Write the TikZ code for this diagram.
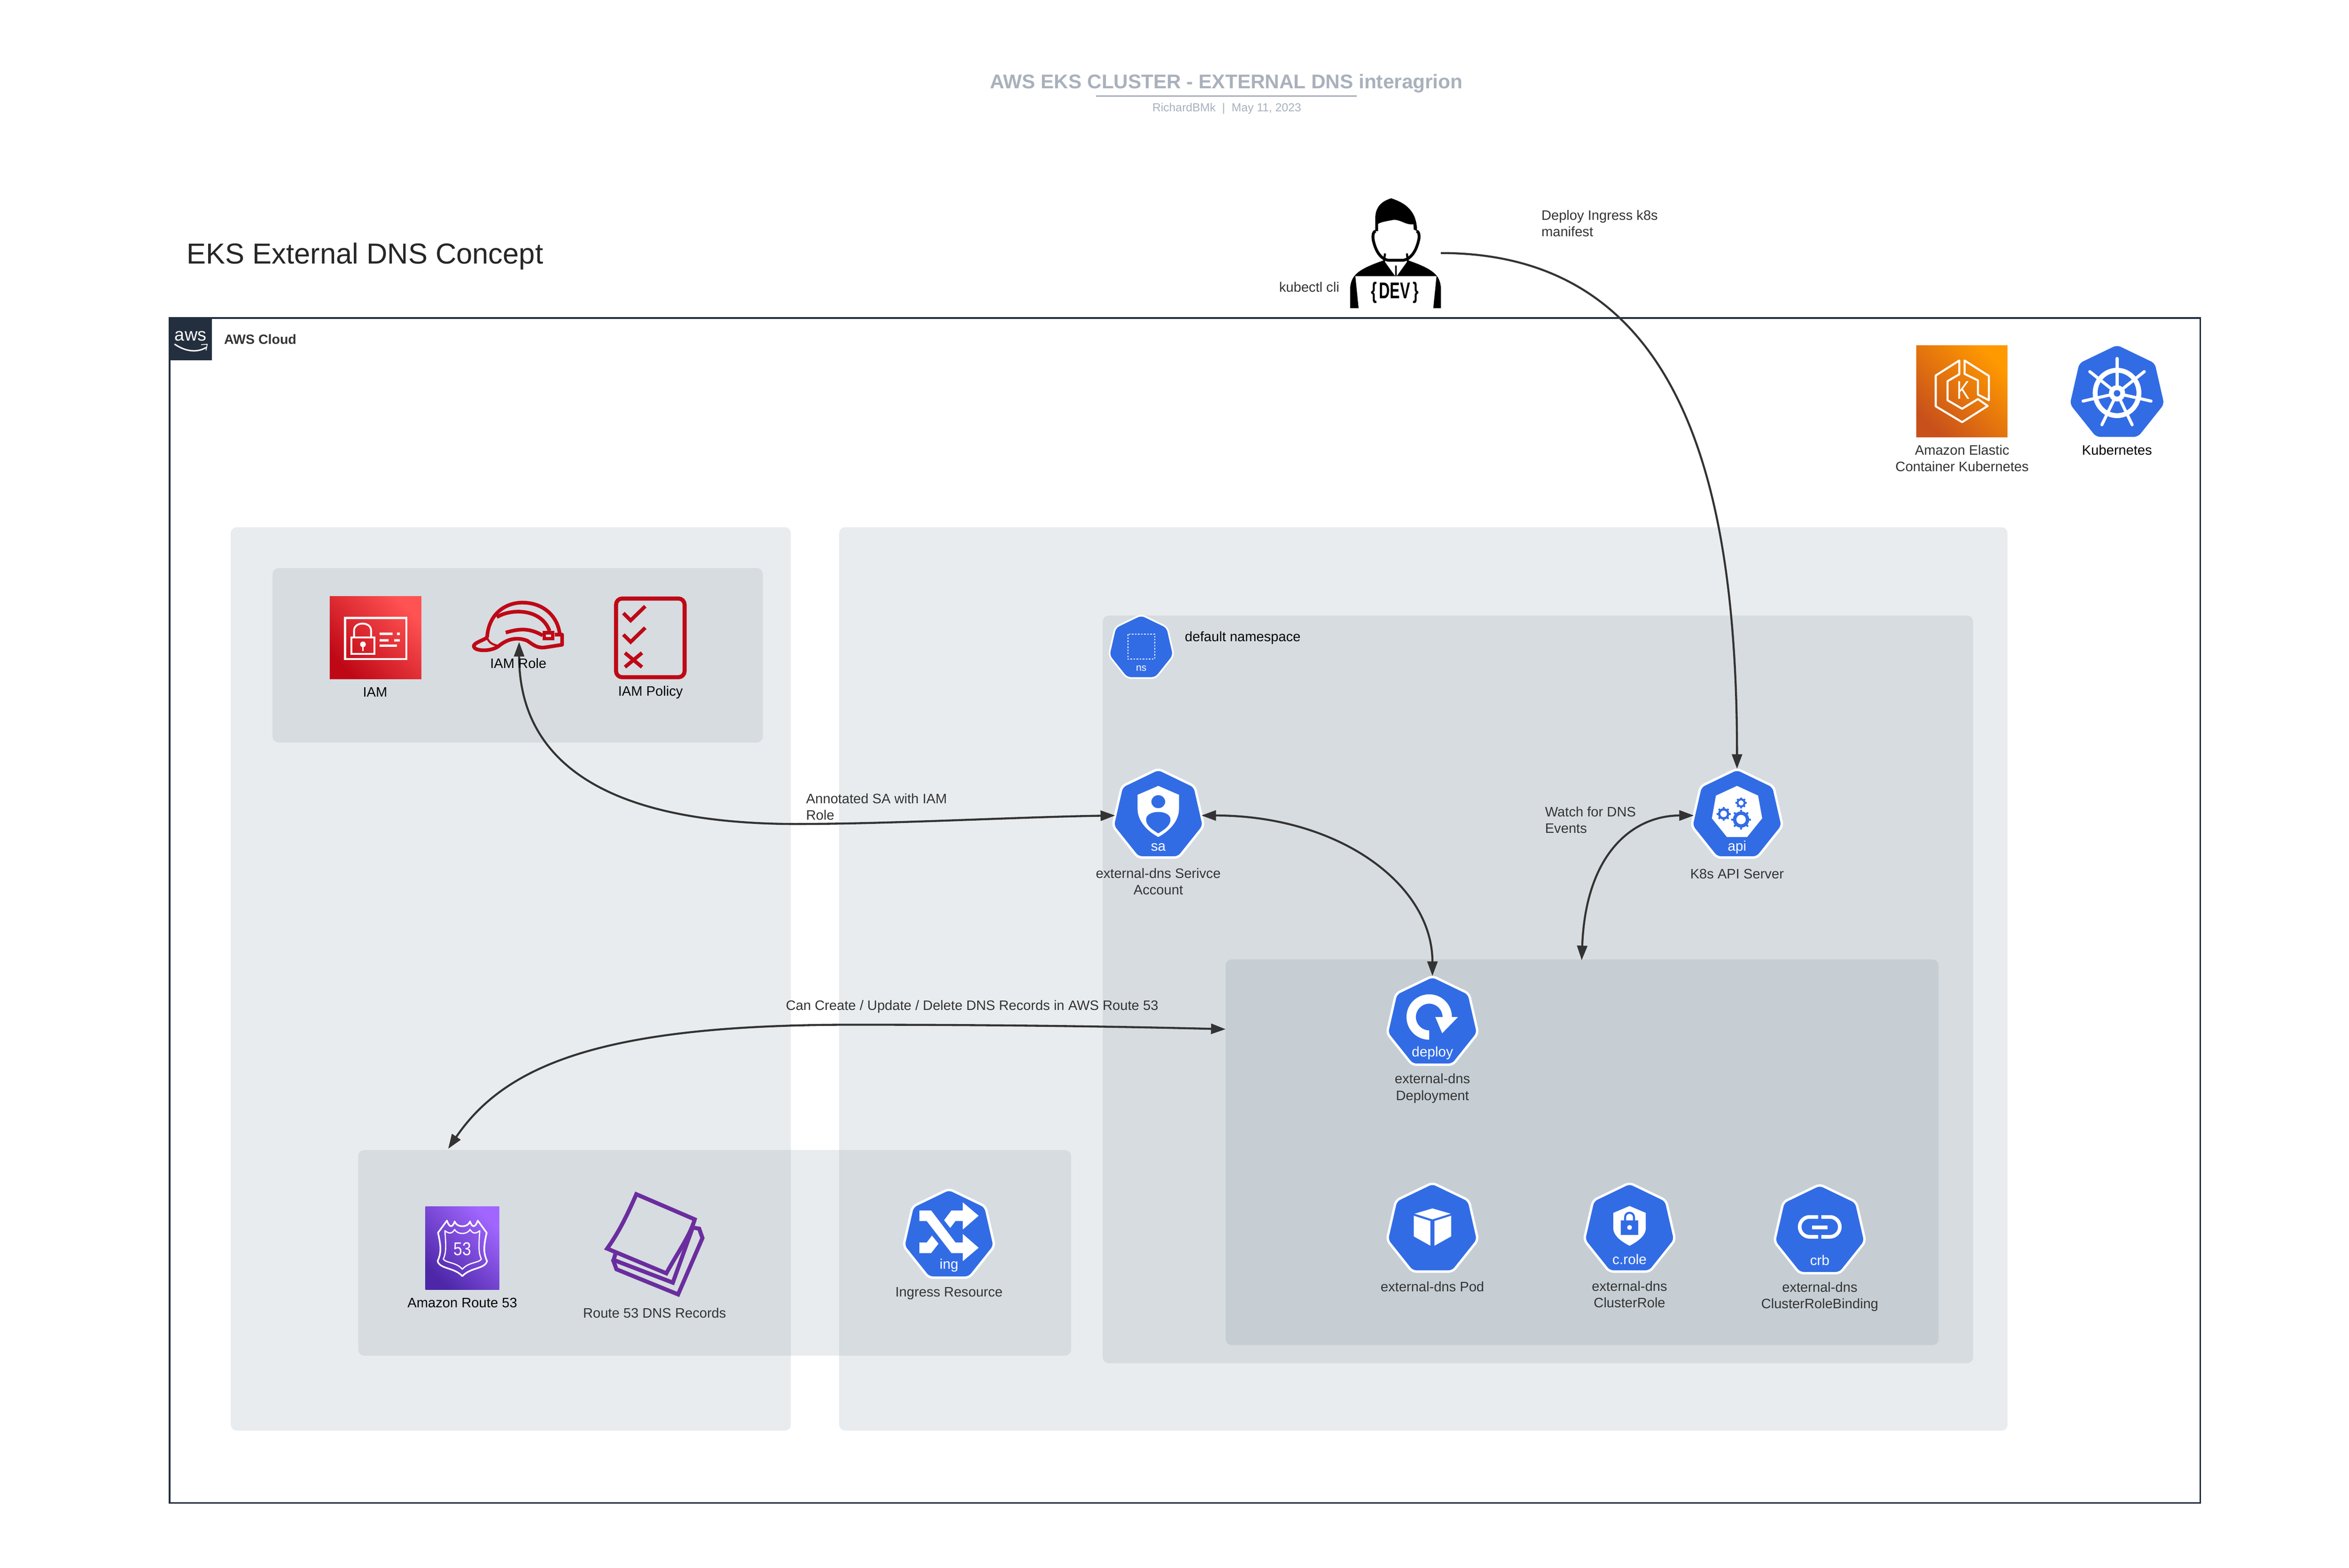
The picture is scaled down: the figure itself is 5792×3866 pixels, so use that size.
\documentclass[tikz,border=0pt]{standalone}
\usepackage{fontspec}
\setmainfont{Liberation Sans}
\usepackage{xcolor}
\usetikzlibrary{shapes,arrows,arrows.meta,fit,calc,positioning,backgrounds}
\definecolor{kubeblue}{RGB}{50,108,229}
\definecolor{zonegray}{RGB}{105,123,141}
\definecolor{cloudnavy}{RGB}{35,47,62}
\definecolor{titlegray}{RGB}{169,177,188}
\definecolor{textgray}{RGB}{51,51,51}
\definecolor{iamred}{RGB}{191,8,22}
\definecolor{dnspurple}{RGB}{107,45,158}
\tikzset{
	x=0.01cm,y=-0.01cm,
	zonebox/.style={fill=zonegray,fill opacity=0.14,rounded corners=0.15cm,inner sep=0pt,outer sep=0pt},
	kubehept/.style={regular polygon,regular polygon sides=7,minimum size=2.3cm,inner sep=0pt,outer sep=0pt,fill=kubeblue,draw=white,line width=0.06cm,rounded corners=0.1cm},
	kubetag/.style={text=white,inner sep=0pt,font=\fontsize{9.8}{11}\selectfont},
	lbl/.style={text=textgray,inner sep=0pt,align=center,font=\fontsize{9.6}{11.6}\selectfont},
	lblk/.style={lbl,text=black},
	conn/.style={draw=textgray,line width=0.05cm,>={Triangle[length=0.36cm,width=0.25cm]}},
	awsicon/.style={shading=axis,shading angle=-45},
}
\newcommand{\kubehex}[5]{
	\node[kubehept] (#1) at (#2,#3) {};
	\ifx&#4&\else\node[kubetag] (#1 tag) at ($(#1.center)+(0,#5)$) {#4};\fi
}
\newcommand{\gearcog}[3]{
	\foreach \a in {0,45,...,315}
	\draw[kubeblue,line width=0.045cm] (#1,#2) ++(\a:#3*0.8) -- ++(\a:#3*0.42);
	\fill[kubeblue] (#1,#2) circle (#3);
	\fill[white] (#1,#2) circle (#3*0.58);
}

\begin{document}
\begin{tikzpicture}
	\fill[white] (0,0) rectangle (5792,3866);
	\useasboundingbox (0,0) rectangle (5792,3866);
	% title
	\node[text=titlegray,inner sep=0pt,font=\fontsize{13.93}{16}\selectfont\bfseries] (title) at (3024,206) {AWS EKS CLUSTER - EXTERNAL DNS interagrion};
	\draw[titlegray,line width=0.035cm] (2702,237) -- (3345,237);
	\node[text=titlegray,inner sep=0pt,font=\fontsize{8.15}{10}\selectfont] (subtitle) at (3025,268) {RichardBMk~~|~~May 11, 2023};
	\node[text=black!85,inner sep=0pt,anchor=west,font=\fontsize{20.25}{24}\selectfont] (concept) at (460,632) {EKS External DNS Concept};

	% cloud
	\draw[cloudnavy,line width=0.04cm] (418,784) rectangle (5425,3706);
	\fill[cloudnavy] (416,782) rectangle (523,889);
	\node[text=white,inner sep=0pt,font=\fontsize{12.5}{14}\selectfont] (aws) at (470,829) {aws};
	\draw[white,line width=0.035cm,line cap=round] (431,849) .. controls (462,870) and (490,868) .. (508,857);
	\draw[white,line width=0.02cm] (496,850) -- (511,849) -- (508,864);
	\node[lbl,anchor=west,font=\fontsize{9.4}{11}\selectfont\bfseries] (cloud) at (552,837) {AWS Cloud};

	% zones
	\node[zonebox,fit={(569,1300) (1950,3528)}] (iamcol) {};
	\node[zonebox,fit={(2069,1300) (4950,3528)}] (eksbox) {};
	\node[zonebox,fit={(672,1401) (1881,1831)}] (iambox) {};
	\node[zonebox,fit={(2719,1518) (4865,3362)}] (nsbox) {};
	\node[zonebox,fit={(3022,2366) (4780,3317)}] (deploybox) {};
	\node[zonebox,fit={(883,2836) (2641,3343)}] (dnsbox) {};

	% kubernetes icons
	\kubehex{sa}{2856}{2011}{sa}{78}
	\kubehex{api}{4283}{2011}{api}{78}
	\kubehex{deploy}{3532}{2522}{deploy}{75}
	\kubehex{pod}{3532}{3032}{}{0}
	\kubehex{crole}{4018}{3032}{c.role}{73}
	\kubehex{crb}{4487}{3036}{crb}{72}
	\kubehex{ing}{2340}{3047}{ing}{74}
	\node[kubehept,minimum size=1.64cm,line width=0.04cm] (ns) at (2814,1598) {};
	\node[kubetag,font=\fontsize{7}{8}\selectfont] (ns tag) at ($(ns.center)+(0,50)$) {ns};
	\node[kubehept,draw=none,minimum size=2.38cm] (k8s) at (5220,970) {};

	% free ends
	\node[inner sep=0pt,minimum width=2.22cm,minimum height=2.71cm] (dev) at (3441,624) {};
	\coordinate (role tip) at (1280,1583);
	\coordinate (annot) at (1958,2032);
	\coordinate (can mid) at (2100,2527);
	\coordinate (can end) at (3022,2538);
	\coordinate (dns end) at (1105,2833);
	\coordinate (watch end) at (3900,2368);

	% connectors
	\draw[conn,->] (dev.east) .. controls (4150,624) and (4283,1200) .. (api.corner 1);
	\draw[conn,<->] (role tip) .. controls (1280,1850) and (1450,2030) .. (annot) .. controls (2200,2032) and (2500,2015) .. (sa.west);
	\draw[conn,<->] (sa.east) .. controls (3300,2011) and (3532,2180) .. (deploy.corner 1);
	\draw[conn,<->] (watch end) .. controls (3910,2100) and (4030,2011) .. (api.west);
	\draw[conn,<->] (dns end) .. controls (1250,2620) and (1500,2527) .. (can mid) .. controls (2400,2527) and (2700,2530) .. (can end);

	% connector labels
	\node[lbl,anchor=west,align=left] (annot lbl) at (1987,1990) {Annotated SA with IAM\\Role};
	\node[lbl] (can lbl) at (2397,2482) {Can Create / Update / Delete DNS Records in AWS Route 53};
	\node[lbl,anchor=west,align=left] (watch lbl) at (3809,2022) {Watch for DNS\\Events};
	\node[lbl,anchor=west,align=left] (deploy lbl) at (3800,551) {Deploy Ingress k8s\\manifest};
	\node[lbl,anchor=east] (kubectl lbl) at (3303,708) {kubectl cli};

	% developer
	\fill[black] (3391,570) -- (3391,535) .. controls (3393,505) and (3412,495) .. (3430,489) .. controls (3465,500) and (3494,520) .. (3494,570) -- (3486,566) -- (3485,553) .. controls (3465,556) and (3450,538) .. (3432,543) .. controls (3415,546) and (3405,548) .. (3398,552) -- (3398,570) -- cycle;
	\draw[black,line width=0.07cm] (3392,570) .. controls (3384,572) and (3385,585) .. (3386,592) .. controls (3392,620) and (3405,640) .. (3425,642) -- (3458,642) .. controls (3478,640) and (3492,620) .. (3498,592) .. controls (3500,585) and (3500,572) .. (3493,570);
	\draw[black,line width=0.05cm] (3415,625) -- (3412,650) (3469,625) -- (3472,650);
	\fill[black] (3329,760) -- (3329,710) .. controls (3332,680) and (3345,665) .. (3412,642) -- (3440,681) -- (3440,655) -- (3444,655) -- (3444,681) -- (3472,642) .. controls (3538,665) and (3550,680) .. (3553,710) -- (3553,760) -- (3534,760) -- (3534,700) -- (3350,700) -- (3350,760) -- cycle;
	\fill[white] (3342,681) -- (3542,681) -- (3534,760) -- (3350,760) -- cycle;
	\node[inner sep=0pt] (dev tag) at (3439,722) {\scalebox{0.66}[1]{\fontsize{16}{18}\selectfont\bfseries\{\,DEV\,\}}};

	% eks
	\shade[bottom color={rgb,255:red,200;green,81;blue,27},top color={rgb,255:red,255;green,153;blue,0},awsicon] (4725,852) rectangle (4950,1078);
	\draw[white,line width=0.05cm,line join=round] (4831,889) -- (4773,926) -- (4773,1002) -- (4838,1041) -- (4901,1001) -- (4877,984) -- (4838,1008) -- (4802,987) -- (4802,940) -- (4831,923) -- cycle;
	\draw[white,line width=0.05cm,line join=round] (4844,889) -- (4904,927) -- (4904,987) -- (4877,973) -- (4877,938) -- (4844,922) -- cycle;
	\node[text=white,inner sep=0pt] (eks k) at (4841,962) {\scalebox{0.75}[1]{\fontsize{18}{20}\selectfont K}};
	\node[lbl] (eks lbl) at (4838,1130) {Amazon Elastic\\Container Kubernetes};
	\node[lblk] (k8s lbl) at (5220,1110) {Kubernetes};
	\begin{scope}[shift={(k8s.center)}]
		\draw[white,line width=0.12cm] (0,-1) ellipse [x radius=54,y radius=56];
		\foreach \i in {0,...,6}
		\draw[white,line width=0.075cm,line cap=round] (0,0) -- ({-90+\i*360/7}:86);
		\fill[white] (0,0) circle (20);
		\fill[kubeblue] (0,0) circle (8);
	\end{scope}

	% iam
	\shade[bottom color=iamred,top color={rgb,255:red,255;green,82;blue,82},awsicon] (813,1470) rectangle (1039,1675);
	\draw[white,line width=0.05cm] (851,1524) rectangle (1002,1625);
	\draw[white,line width=0.045cm] (866,1572) rectangle (923,1612);
	\draw[white,line width=0.045cm] (873,1572) -- (873,1555) .. controls (873,1532) and (915,1532) .. (915,1555) -- (915,1572);
	\fill[white] (895,1589) circle (7);
	\draw[white,line width=0.03cm] (895,1589) -- (895,1605);
	\fill[white] (936,1560) rectangle (968,1566) (979,1560) rectangle (986,1566);
	\fill[white] (936,1576) rectangle (958,1582) (972,1576) rectangle (986,1582);
	\fill[white] (936,1589) rectangle (979,1595);
	\node[lblk] (iam lbl) at (925,1707) {IAM};
	% role
	\begin{scope}[iamred,line width=0.09cm,line join=round]
		\draw (1201,1572) .. controls (1205,1510) and (1250,1486) .. (1288,1486) .. controls (1340,1486) and (1375,1520) .. (1380,1563);
		\draw (1225,1522) .. controls (1260,1500) and (1335,1500) .. (1355,1556);
		\draw (1247,1560) .. controls (1280,1550) and (1305,1548) .. (1338,1567);
		\draw (1201,1572) .. controls (1190,1580) and (1168,1585) .. (1168,1594) .. controls (1170,1606) and (1210,1608) .. (1230,1593) .. controls (1255,1572) and (1280,1572) .. (1300,1580) .. controls (1315,1590) and (1325,1600) .. (1347,1596) -- (1386,1590) -- (1386,1565) -- (1368,1565);
		\draw[line width=0.05cm] (1201,1572) .. controls (1205,1585) and (1215,1590) .. (1230,1593);
		\fill (1338,1556) rectangle (1367,1579);
	\end{scope}
	\fill[zonegray!20] (1346,1565) rectangle (1359,1571);
	\node[lblk] (role lbl) at (1278,1636) {IAM Role};
	% policy
	\draw[iamred,line width=0.1cm,rounded corners=0.15cm] (1519,1476) rectangle (1688,1670);
	\draw[iamred,line width=0.09cm] (1537,1512) -- (1555,1530) -- (1591,1495);
	\draw[iamred,line width=0.09cm] (1537,1565) -- (1555,1583) -- (1591,1548);
	\draw[iamred,line width=0.09cm] (1541,1610) -- (1583,1645) (1583,1610) -- (1541,1645);
	\node[lblk] (policy lbl) at (1604,1707) {IAM Policy};

	% route 53
	\shade[bottom color={rgb,255:red,77;green,39;blue,168},top color={rgb,255:red,161;green,102;blue,255},awsicon] (1049,2975) rectangle (1231,3180);
	\begin{scope}[white,line width=0.04cm,line join=round]
		\draw (1102,3010) .. controls (1108,3028) and (1116,3028) .. (1121,3012) .. controls (1126,3028) and (1154,3028) .. (1159,3012) .. controls (1164,3028) and (1172,3028) .. (1178,3010) -- (1200,3040) .. controls (1192,3075) and (1192,3090) .. (1201,3110) .. controls (1195,3130) and (1160,3125) .. (1140,3147) .. controls (1120,3125) and (1085,3130) .. (1079,3110) .. controls (1088,3090) and (1088,3075) .. (1080,3040) -- cycle;
		\draw[line width=0.03cm] (1097,3035) .. controls (1110,3045) and (1116,3040) .. (1121,3032) .. controls (1128,3045) and (1152,3045) .. (1159,3032) .. controls (1164,3040) and (1170,3045) .. (1183,3035) .. controls (1180,3075) and (1180,3090) .. (1187,3105) .. controls (1180,3115) and (1155,3112) .. (1140,3130) .. controls (1125,3112) and (1100,3115) .. (1093,3105) .. controls (1100,3090) and (1100,3075) .. (1097,3035) -- cycle;
	\end{scope}
	\node[text=white,inner sep=0pt] (r53 num) at (1140,3080) {\scalebox{0.85}[1]{\fontsize{13}{15}\selectfont 53}};
	\node[lblk] (r53 lbl) at (1140,3213) {Amazon Route 53};
	% records
	\begin{scope}[dnspurple,line width=0.1cm,line join=miter]
		\draw (1518,3090) -- (1513,3107) -- (1659,3163) -- (1708,3027);
		\draw (1708,3027) -- (1724,3030) -- (1732,3053) -- (1672,3192) -- (1520,3130) -- (1511,3105);
		\draw (1569,2945) -- (1713,3007) .. controls (1700,3050) and (1670,3090) .. (1643,3140) -- (1497,3079) .. controls (1525,3040) and (1545,3000) .. (1569,2945) -- cycle;
	\end{scope}
	\node[lbl] (records lbl) at (1614,3238) {Route 53 DNS Records};
	% ingress
	\begin{scope}[shift={(ing.center)}]
		\fill[white] (-73,-62) -- (-44,-62) -- (16,17) -- (34,17) -- (34,-4) -- (73,30) -- (34,63) -- (34,43) -- (6,43) -- (-55,-36) -- (-73,-36) -- cycle;
		\fill[white] (-12,-38) -- (6,-62) -- (34,-62) -- (34,-82) -- (73,-49) -- (34,-15) -- (34,-36) -- (16,-36) -- (3,-19) -- cycle;
		\fill[white] (-73,17) -- (-55,17) -- (-42,0) -- (-26,20) -- (-44,43) -- (-73,43) -- cycle;
	\end{scope}
	\node[lbl] (ing lbl) at (2340,3190) {Ingress Resource};

	% namespace
	\begin{scope}[shift={(ns.center)}]
		\draw[white,line width=0.025cm,dash pattern=on 0.04cm off 0.035cm] (-33,-34) rectangle (33,27);
	\end{scope}
	\node[lblk] (ns lbl) at (2921,1573) [anchor=west] {default namespace};

	% service account
	\begin{scope}[shift={(sa.center)}]
		\fill[white] (0,-73) -- (51,-51) -- (51,-16) .. controls (51,15) and (25,40) .. (0,53) .. controls (-25,40) and (-51,15) .. (-51,-16) -- (-51,-51) -- cycle;
		\fill[kubeblue] (0,-34) ellipse [x radius=17,y radius=16];
		\fill[kubeblue] (-30,10) .. controls (-30,-15) and (30,-15) .. (30,10) .. controls (30,25) and (15,35) .. (0,44) .. controls (-15,35) and (-30,25) .. (-30,10) -- cycle;
	\end{scope}
	\node[lbl] (sa lbl) at (2856,2174) {external-dns Serivce\\Account};

	% api server
	\begin{scope}[shift={(api.center)}]
		\fill[white] (0,-73) -- (52,-49) -- (62,7) -- (25,53) -- (-25,53) -- (-62,7) -- (-52,-49) -- cycle;
		\gearcog{10}{-31}{11}
		\gearcog{-33}{-4}{14}
		\gearcog{10}{10}{20}
	\end{scope}
	\node[lbl] (api lbl) at (4283,2155) {K8s API Server};

	% deployment
	\begin{scope}[shift={(deploy.center)}]
		\fill[white] (-8,42) arc[start angle=90,end angle=360,radius=56] -- (63,-14) -- (24,26) -- (7,-14) -- (25,-14) arc[start angle=0,end angle=-270,radius=33] -- cycle;
	\end{scope}
	\node[lbl] (deploy name) at (3532,2684) {external-dns\\Deployment};

	% pod
	\begin{scope}[shift={(pod.center)}]
		\fill[white] (0,-52) -- (45,-39) -- (0,-25) -- (-44,-39) -- cycle;
		\fill[white] (-46,-34) -- (-5,-21) -- (-5,40) -- (-46,17) -- cycle;
		\fill[white] (46,-34) -- (5,-21) -- (5,40) -- (46,17) -- cycle;
	\end{scope}
	\node[lbl] (pod lbl) at (3532,3173) {external-dns Pod};

	% cluster role
	\begin{scope}[shift={(crole.center)}]
		\fill[white] (0,-58) -- (40,-41) -- (40,-3) .. controls (40,15) and (20,30) .. (0,40) .. controls (-20,30) and (-40,15) .. (-40,-3) -- (-40,-41) -- cycle;
		\draw[kubeblue,line width=0.05cm] (-11,-22) -- (-11,-30) .. controls (-11,-45) and (11,-45) .. (11,-30) -- (11,-22);
		\fill[kubeblue] (-21,-22) rectangle (21,13);
		\fill[white] (0,-5) circle (6);
	\end{scope}
	\node[lbl] (crole lbl) at (4018,3192) {external-dns\\ClusterRole};

	% cluster role binding
	\begin{scope}[shift={(crb.center)}]
		\draw[white,line width=0.09cm] (-4,-35) -- (-25,-35) arc[start angle=270,end angle=90,radius=24.5] -- (-4,14);
		\draw[white,line width=0.09cm] (4,-35) -- (25,-35) arc[start angle=-90,end angle=90,radius=24.5] -- (4,14);
		\fill[white] (-19,-14) rectangle (19,-5);
	\end{scope}
	\node[lbl] (crb lbl) at (4487,3198) {external-dns\\ClusterRoleBinding};
\end{tikzpicture}
\end{document}
